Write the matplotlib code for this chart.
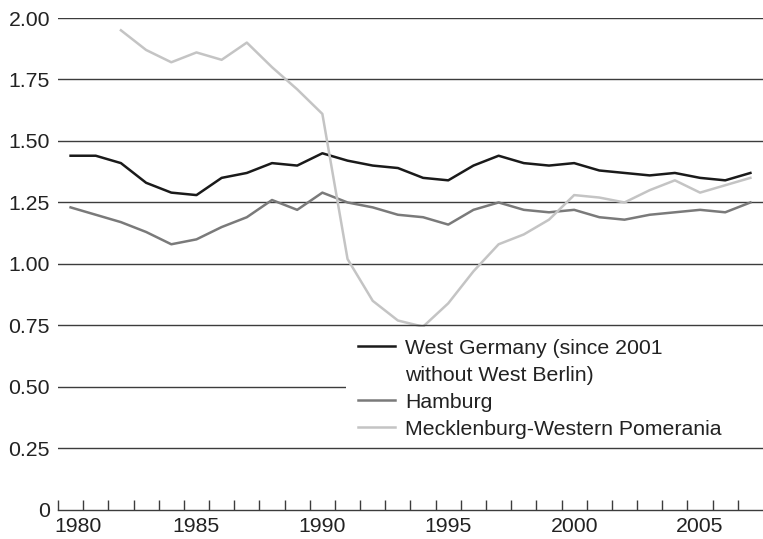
import numpy as np
import matplotlib
matplotlib.use("Agg")
import matplotlib.pyplot as plt
import matplotlib.transforms as mtransforms
from matplotlib.lines import Line2D

# data
years = list(range(1980, 2008))
west_germany = [1.44, 1.44, 1.41, 1.33, 1.29, 1.28, 1.35, 1.37, 1.41, 1.40,
                1.45, 1.42, 1.40, 1.39, 1.35, 1.34, 1.40, 1.44, 1.41, 1.40,
                1.41, 1.38, 1.37, 1.36, 1.37, 1.35, 1.34, 1.37]
hamburg = [1.23, 1.20, 1.17, 1.13, 1.08, 1.10, 1.15, 1.19, 1.26, 1.22,
           1.29, 1.25, 1.23, 1.20, 1.19, 1.16, 1.22, 1.25, 1.22, 1.21,
           1.22, 1.19, 1.18, 1.20, 1.21, 1.22, 1.21, 1.25]
meck_years = list(range(1982, 2008))
mecklenburg = [1.95, 1.87, 1.82, 1.86, 1.83, 1.90, 1.80, 1.71, 1.61, 1.02,
               0.85, 0.77, 0.745, 0.84, 0.97, 1.08, 1.12, 1.18, 1.28, 1.27,
               1.25, 1.30, 1.34, 1.29, 1.32, 1.35]

labels = ["West Germany (since 2001", "without West Berlin)", "Hamburg",
          "Mecklenburg-Western Pomerania"]
y_ticks = [0, 0.25, 0.5, 0.75, 1.0, 1.25, 1.5, 1.75, 2.0]
x_ticks = [1980, 1985, 1990, 1995, 2000, 2005]

plt.rcParams['font.family'] = ['Liberation Sans', 'DejaVu Sans']
text_color = '#222222'
grid_color = '#3c3c3c'
fs = 15.3
lw = 1.8

fig = plt.figure(figsize=(7.63, 5.39), dpi=100)
ax = fig.add_axes([0.076, 0.054, 0.924, 0.9126])

# gridlines; the ones framing the legend stay on top of it
for y in y_ticks[1:]:
    z = 6 if y in (0.25, 0.75) else 1
    ax.axhline(y, color=grid_color, lw=1.0, zorder=z)

ax.plot(years, west_germany, color='#1a1a1a', lw=lw, zorder=3, clip_on=False)
ax.plot(years, hamburg, color='#7a7a7a', lw=lw, zorder=3, clip_on=False)
ax.plot(meck_years, mecklenburg, color='#c4c4c4', lw=lw, zorder=3, clip_on=False)

ax.set_xlim(1979.5, 2007.5)
ax.set_ylim(0, 2.0)

for side in ['top', 'right', 'left']:
    ax.spines[side].set_visible(False)
ax.spines['bottom'].set_color(grid_color)
ax.spines['bottom'].set_linewidth(1.0)

ax.set_yticks(y_ticks)
ax.set_yticklabels(['0' if v == 0 else f'{v:.2f}' for v in y_ticks])
ax.tick_params(axis='y', length=0, pad=5.8, labelsize=fs, labelcolor=text_color)

ax.set_xticks(x_ticks)
ax.set_xticks(np.arange(1979.5, 2007, 1.0), minor=True)
ax.tick_params(axis='x', which='major', length=0, pad=5.0, labelsize=fs,
               labelcolor=text_color)
ax.tick_params(axis='x', which='minor', direction='in', length=7, width=1.0,
               color=grid_color)

# first year label sits a little to the right in the reference
first = ax.get_xticklabels()[0]
first.set_transform(first.get_transform() +
                    mtransforms.ScaledTranslation(7 / 100, 0, fig.dpi_scale_trans))

handles = [Line2D([], [], color='#1a1a1a', lw=lw),
           Line2D([], [], color='none', lw=lw),
           Line2D([], [], color='#7a7a7a', lw=lw),
           Line2D([], [], color='#c4c4c4', lw=lw)]
leg = ax.legend(handles, labels, loc='upper left',
                bbox_to_anchor=(0.4085, 0.0, 0.5915, 0.372),
                mode='expand', fontsize=fs, frameon=True, fancybox=False,
                facecolor='white', edgecolor='none', framealpha=1.0,
                borderpad=0.55, labelspacing=0.38, handlelength=1.75,
                handletextpad=0.48, borderaxespad=0)
leg.set_zorder(5)
for t in leg.get_texts():
    t.set_color(text_color)

fig.savefig('out.png', dpi=100)
